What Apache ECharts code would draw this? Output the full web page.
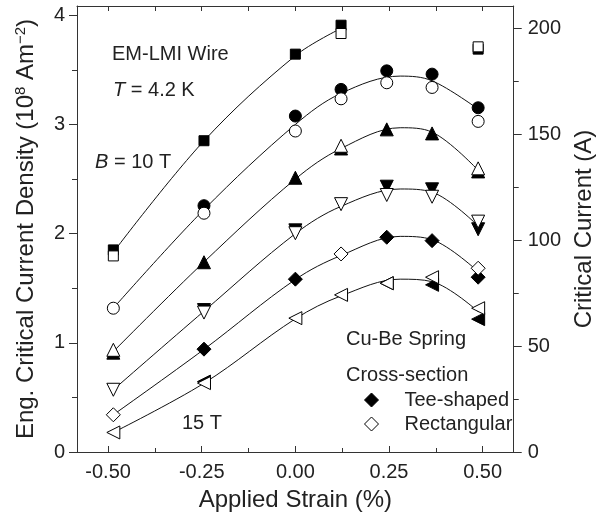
<!DOCTYPE html>
<html>
<head>
<meta charset="utf-8">
<script src="https://cdn.jsdelivr.net/npm/echarts@6/dist/echarts.min.js"></script>
<style>
html,body{margin:0;padding:0;background:#fff;}
#chart{width:604px;height:522px;}
</style>
</head>
<body>
<div id="chart"></div>
<script>
// ---- data ----
const strain = [-0.486, -0.244, 0, 0.122, 0.244, 0.365, 0.488];
const fitStrain = [-0.486, -0.244, 0, 0.122, 0.28, 0.365, 0.488];

const tee10 = [1.851, 2.851, 3.644, 3.909, null, null, 3.69];
const rect10 = [1.796, null, null, 3.833, null, null, 3.711];
const fit10 = [1.83, 2.85, 3.63, 3.88, null, null, null];

const tee11 = [null, 2.256, 3.077, 3.321, 3.491, 3.461, 3.153];
const rect11 = [1.317, 2.187, 2.94, 3.235, 3.382, 3.339, 3.028];
const fit11 = [1.317, 2.22, 3.0, 3.285, 3.443, 3.40, 3.14];

const tee12 = [0.91, 1.738, 2.512, 2.78, 2.955, 2.918, 2.57];
const rect12 = [0.936, null, null, 2.805, null, null, 2.598];
const fit12 = [0.92, 1.74, 2.5, 2.78, 2.97, 2.93, 2.58];

const tee13 = [null, 1.30, 2.03, null, 2.43, 2.406, 2.04];
const rect13 = [0.57, 1.277, 2.004, 2.27, 2.354, 2.338, 2.11];
const fit13 = [0.57, 1.29, 2.0, 2.25, 2.409, 2.38, 2.07];

const tee14 = [null, 0.942, 1.583, null, 1.967, 1.936, 1.601];
const rect14 = [0.341, null, null, 1.814, null, null, 1.683];
const fit14 = [0.341, 0.94, 1.58, 1.80, 1.975, 1.945, 1.652];

const tee15 = [null, 0.645, null, null, 1.546, 1.531, 1.217];
const rect15 = [0.179, 0.631, 1.226, 1.439, 1.546, 1.601, 1.317];
const fit15 = [0.179, 0.63, 1.22, 1.43, 1.583, 1.56, 1.286];

const xLabels = [-0.5, -0.25, 0, 0.25, 0.5];
const xMinor = [-0.375, -0.125, 0.125, 0.375];
const xTop = [-0.5, -0.375, -0.25, -0.125, 0, 0.125, 0.25, 0.375, 0.5];
const yLabels = [0, 1, 2, 3, 4];
const yMinor = [0.5, 1.5, 2.5, 3.5];
const y2Labels = [0, 50, 100, 150, 200];
const y2Minor = [25, 75, 125, 175];

// ---- build ----
const FONT = 'Liberation Sans, Arial, Helvetica, sans-serif';
const INK = '#222';
const AX = '#333';

function pairs(xs, ys) {
  const out = [];
  for (let i = 0; i < xs.length; i++) if (ys[i] != null) out.push([xs[i], ys[i]]);
  return out;
}

const fields = [
  {tee: tee10, rect: rect10, fit: fit10, symbol: 'rect', size: 10, rot: 0},
  {tee: tee11, rect: rect11, fit: fit11, symbol: 'circle', size: 12, rot: 0},
  {tee: tee12, rect: rect12, fit: fit12, symbol: 'triangle', size: 13, rot: 0},
  {tee: tee13, rect: rect13, fit: fit13, symbol: 'triangle', size: 13, rot: 180},
  {tee: tee14, rect: rect14, fit: fit14, symbol: 'diamond', size: 14, rot: 0},
  {tee: tee15, rect: rect15, fit: fit15, symbol: 'triangle', size: 13, rot: 90}
];

const series = [];
fields.forEach(f => {
  series.push({
    type: 'line', data: pairs(fitStrain, f.fit), smooth: 0.35,
    symbol: 'none', lineStyle: {color: '#111', width: 1}, z: 2, silent: true
  });
});
fields.forEach(f => {
  series.push({
    name: 'Tee-shaped', type: 'scatter', data: pairs(strain, f.tee),
    symbol: f.symbol, symbolSize: f.size, symbolRotate: f.rot,
    itemStyle: {color: '#000', borderColor: '#000', borderWidth: 1, opacity: 1}, z: 3
  });
});
fields.forEach(f => {
  series.push({
    name: 'Rectangular', type: 'scatter', data: pairs(strain, f.rect),
    symbol: f.symbol, symbolSize: f.size, symbolRotate: f.rot,
    itemStyle: {color: '#fff', borderColor: '#000', borderWidth: 1, opacity: 1}, z: 4
  });
});

const labelStyle = {fontSize: 20, color: INK, fontFamily: FONT};
const XMIN = -0.583, XMAX = 0.583, YMAX = 4.085, Y2MAX = 210.4;

const option = {
  animation: false,
  backgroundColor: '#fff',
  grid: {left: 77, right: 77, top: 6, bottom: 70},
  legend: {
    orient: 'vertical', left: 364, top: 390, padding: 0,
    itemWidth: 14, itemHeight: 14, itemGap: 4,
    textStyle: {fontSize: 20, color: INK, fontFamily: FONT, lineHeight: 20, padding: [0, 0, 0, 21]},
    data: [
      {name: 'Tee-shaped', icon: 'diamond', itemStyle: {color: '#000', borderColor: '#000', borderWidth: 1, opacity: 1}},
      {name: 'Rectangular', icon: 'diamond', itemStyle: {color: '#fff', borderColor: '#000', borderWidth: 1, opacity: 1}}
    ]
  },
  xAxis: [
    {
      type: 'value', position: 'bottom', min: XMIN, max: XMAX,
      name: 'Applied Strain (%)', nameLocation: 'middle', nameGap: 36,
      nameTextStyle: {fontSize: 24, color: INK, fontFamily: FONT},
      axisLine: {show: true, onZero: false, lineStyle: {color: AX, width: 1}},
      axisTick: {show: true, inside: true, length: 6, customValues: xLabels, lineStyle: {color: AX}},
      axisLabel: Object.assign({margin: 10, customValues: xLabels, formatter: v => v.toFixed(2)}, labelStyle),
      splitLine: {show: false}
    },
    {
      type: 'value', position: 'bottom', min: XMIN, max: XMAX,
      axisLine: {show: false, onZero: false},
      axisTick: {show: true, inside: true, length: 4, customValues: xMinor, lineStyle: {color: AX}},
      axisLabel: {show: false}, splitLine: {show: false}
    },
    {
      type: 'value', position: 'top', min: XMIN, max: XMAX,
      axisLine: {show: true, onZero: false, lineStyle: {color: AX, width: 1}},
      axisTick: {show: true, inside: true, length: 5, customValues: xTop, lineStyle: {color: AX}},
      axisLabel: {show: false}, splitLine: {show: false}
    }
  ],
  yAxis: [
    {
      type: 'value', position: 'left', min: 0, max: YMAX,
      name: 'Eng. Critical Current Density (10{sup|8} Am{sup|−2})',
      nameLocation: 'middle', nameGap: 38, nameRotate: 90,
      nameTextStyle: {fontSize: 24, color: INK, fontFamily: FONT, lineHeight: 26,
        rich: {sup: {fontSize: 15, color: INK, fontFamily: FONT, verticalAlign: 'top', lineHeight: 26}}},
      axisLine: {show: true, onZero: false, lineStyle: {color: AX, width: 1}},
      axisTick: {show: true, inside: false, length: 8, customValues: yLabels, lineStyle: {color: AX}},
      axisLabel: Object.assign({margin: 12, customValues: yLabels}, labelStyle),
      splitLine: {show: false}
    },
    {
      type: 'value', position: 'left', min: 0, max: YMAX,
      axisLine: {show: false, onZero: false},
      axisTick: {show: true, inside: false, length: 5, customValues: yMinor, lineStyle: {color: AX}},
      axisLabel: {show: false}, splitLine: {show: false}
    },
    {
      type: 'value', position: 'right', min: 0, max: Y2MAX,
      name: 'Critical Current (A)', nameLocation: 'middle', nameGap: 46, nameRotate: 90,
      nameTextStyle: {fontSize: 24, color: INK, fontFamily: FONT},
      axisLine: {show: true, onZero: false, lineStyle: {color: AX, width: 1}},
      axisTick: {show: true, inside: false, length: 8, customValues: y2Labels, lineStyle: {color: AX}},
      axisLabel: Object.assign({margin: 14, customValues: y2Labels}, labelStyle),
      splitLine: {show: false}
    },
    {
      type: 'value', position: 'right', min: 0, max: Y2MAX,
      axisLine: {show: false, onZero: false},
      axisTick: {show: true, inside: false, length: 5, customValues: y2Minor, lineStyle: {color: AX}},
      axisLabel: {show: false}, splitLine: {show: false}
    }
  ],
  graphic: [
    {type: 'text', x: 112, y: 54, style: {text: 'EM-LMI Wire', font: '20px ' + FONT, fill: INK, verticalAlign: 'middle'}},
    {type: 'text', x: 113, y: 90, style: {text: '{i|T} = 4.2 K', font: '20px ' + FONT, fill: INK, verticalAlign: 'middle',
      rich: {i: {fontStyle: 'italic', fontSize: 20, fontFamily: FONT, fill: INK}}}},
    {type: 'text', x: 95, y: 162, style: {text: '{i|B} = 10 T', font: '20px ' + FONT, fill: INK, verticalAlign: 'middle',
      rich: {i: {fontStyle: 'italic', fontSize: 20, fontFamily: FONT, fill: INK}}}},
    {type: 'text', x: 182, y: 423, style: {text: '15 T', font: '20px ' + FONT, fill: INK, verticalAlign: 'middle'}},
    {type: 'text', x: 346, y: 339, style: {text: 'Cu-Be Spring', font: '20px ' + FONT, fill: INK, verticalAlign: 'middle'}},
    {type: 'text', x: 346, y: 375, style: {text: 'Cross-section', font: '20px ' + FONT, fill: INK, verticalAlign: 'middle'}}
  ],
  series: series
};

const chart = echarts.init(document.getElementById('chart'), null, {renderer: 'canvas'});
chart.setOption(option);
</script>
</body>
</html>
